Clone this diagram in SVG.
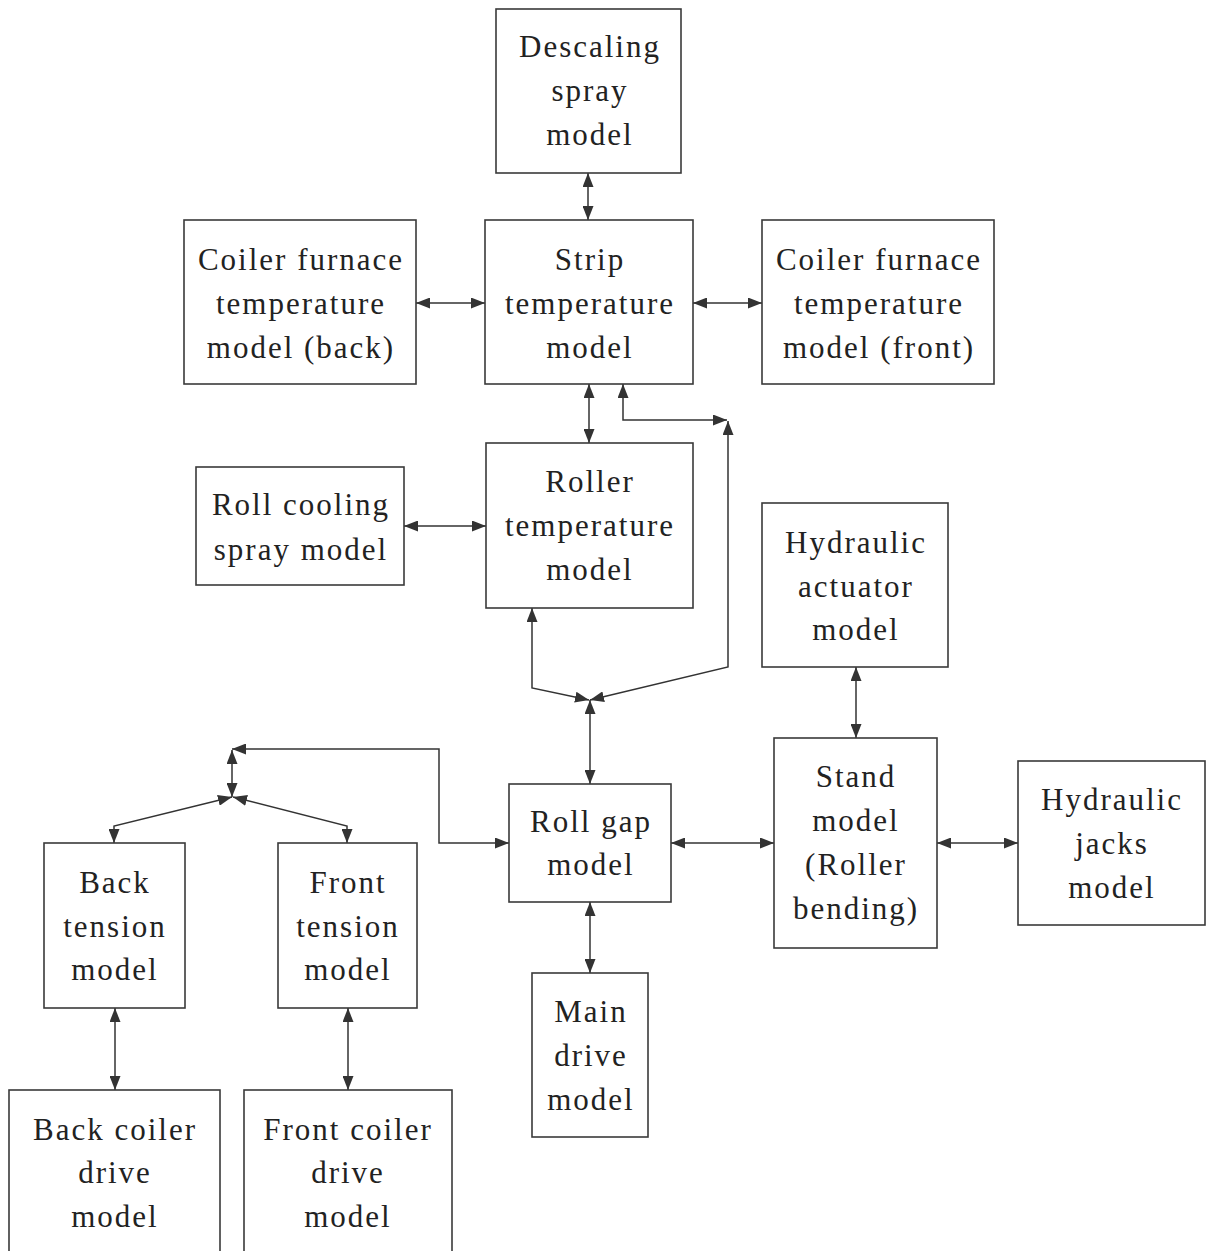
<svg xmlns="http://www.w3.org/2000/svg" width="1212" height="1251" viewBox="0 0 1212 1251">
<defs>
<style>
.box{fill:#fff;stroke:#3a3a3a;stroke-width:1.6}
.t{font-family:"Liberation Serif","Times New Roman",serif;font-size:31px;fill:#222;text-anchor:middle;letter-spacing:2px}
.c{fill:none;stroke:#333;stroke-width:1.5}
</style>
<marker id="ah" viewBox="0 0 14 11" refX="14" refY="5.5" markerWidth="14" markerHeight="11" markerUnits="userSpaceOnUse" orient="auto-start-reverse">
<path d="M0,0 L14,5.5 L0,11 Z" fill="#333"/>
</marker>
</defs>
<rect width="1212" height="1251" fill="#fff"/>

<g id="connectors">
<path class="c" d="M588,173 V220" marker-start="url(#ah)" marker-end="url(#ah)"/>
<path class="c" d="M416,303 H485" marker-start="url(#ah)" marker-end="url(#ah)"/>
<path class="c" d="M693,303 H762" marker-start="url(#ah)" marker-end="url(#ah)"/>
<path class="c" d="M589,384 V443" marker-start="url(#ah)" marker-end="url(#ah)"/>
<path class="c" d="M623,384 V420 H727" marker-start="url(#ah)" marker-end="url(#ah)"/>
<path class="c" d="M590,700 L728,667 V421" marker-start="url(#ah)" marker-end="url(#ah)"/>
<path class="c" d="M404,526 H486" marker-start="url(#ah)" marker-end="url(#ah)"/>
<path class="c" d="M532,608 V688 L589,700" marker-start="url(#ah)" marker-end="url(#ah)"/>
<path class="c" d="M590,700 V784" marker-start="url(#ah)" marker-end="url(#ah)"/>
<path class="c" d="M671,843 H774" marker-start="url(#ah)" marker-end="url(#ah)"/>
<path class="c" d="M937,843 H1018" marker-start="url(#ah)" marker-end="url(#ah)"/>
<path class="c" d="M856,667 V738" marker-start="url(#ah)" marker-end="url(#ah)"/>
<path class="c" d="M590,902 V973" marker-start="url(#ah)" marker-end="url(#ah)"/>
<path class="c" d="M509,843 H439 V749 H232" marker-start="url(#ah)" marker-end="url(#ah)"/>
<path class="c" d="M232,750 V797" marker-start="url(#ah)" marker-end="url(#ah)"/>
<path class="c" d="M232,797 L114,826 V843" marker-start="url(#ah)" marker-end="url(#ah)"/>
<path class="c" d="M233,797 L347,826 V843" marker-start="url(#ah)" marker-end="url(#ah)"/>
<path class="c" d="M115,1008 V1090" marker-start="url(#ah)" marker-end="url(#ah)"/>
<path class="c" d="M348,1008 V1090" marker-start="url(#ah)" marker-end="url(#ah)"/>
</g>

<g id="descaling">
<rect class="box" x="496" y="9" width="185" height="164"/>
<text class="t" x="590" y="57">Descaling<tspan x="590" dy="44">spray</tspan><tspan x="590" dy="44">model</tspan></text>
</g>
<g id="coiler-back">
<rect class="box" x="184" y="220" width="232" height="164"/>
<text class="t" x="301" y="270">Coiler furnace<tspan x="301" dy="44">temperature</tspan><tspan x="301" dy="44">model (back)</tspan></text>
</g>
<g id="strip">
<rect class="box" x="485" y="220" width="208" height="164"/>
<text class="t" x="590" y="270">Strip<tspan x="590" dy="44">temperature</tspan><tspan x="590" dy="44">model</tspan></text>
</g>
<g id="coiler-front">
<rect class="box" x="762" y="220" width="232" height="164"/>
<text class="t" x="879" y="270">Coiler furnace<tspan x="879" dy="44">temperature</tspan><tspan x="879" dy="44">model (front)</tspan></text>
</g>
<g id="roll-cooling">
<rect class="box" x="196" y="467" width="208" height="118"/>
<text class="t" x="301" y="515">Roll cooling<tspan x="301" dy="45">spray model</tspan></text>
</g>
<g id="roller-temp">
<rect class="box" x="486" y="443" width="207" height="165"/>
<text class="t" x="590" y="492">Roller<tspan x="590" dy="44">temperature</tspan><tspan x="590" dy="44">model</tspan></text>
</g>
<g id="hyd-actuator">
<rect class="box" x="762" y="503" width="186" height="164"/>
<text class="t" x="856" y="553">Hydraulic<tspan x="856" dy="44">actuator</tspan><tspan x="856" dy="43">model</tspan></text>
</g>
<g id="roll-gap">
<rect class="box" x="509" y="784" width="162" height="118"/>
<text class="t" x="591" y="832">Roll gap<tspan x="591" dy="43">model</tspan></text>
</g>
<g id="stand">
<rect class="box" x="774" y="738" width="163" height="210"/>
<text class="t" x="856" y="787">Stand<tspan x="856" dy="44">model</tspan><tspan x="856" dy="44">(Roller</tspan><tspan x="856" dy="44">bending)</tspan></text>
</g>
<g id="hyd-jacks">
<rect class="box" x="1018" y="761" width="187" height="164"/>
<text class="t" x="1112" y="810">Hydraulic<tspan x="1112" dy="44">jacks</tspan><tspan x="1112" dy="44">model</tspan></text>
</g>
<g id="back-tension">
<rect class="box" x="44" y="843" width="141" height="165"/>
<text class="t" x="115" y="893">Back<tspan x="115" dy="44">tension</tspan><tspan x="115" dy="43">model</tspan></text>
</g>
<g id="front-tension">
<rect class="box" x="278" y="843" width="139" height="165"/>
<text class="t" x="348" y="893">Front<tspan x="348" dy="44">tension</tspan><tspan x="348" dy="43">model</tspan></text>
</g>
<g id="main-drive">
<rect class="box" x="532" y="973" width="116" height="164"/>
<text class="t" x="591" y="1022">Main<tspan x="591" dy="44">drive</tspan><tspan x="591" dy="44">model</tspan></text>
</g>
<g id="back-coiler-drive">
<rect class="box" x="9" y="1090" width="211" height="166"/>
<text class="t" x="115" y="1140">Back coiler<tspan x="115" dy="43">drive</tspan><tspan x="115" dy="44">model</tspan></text>
</g>
<g id="front-coiler-drive">
<rect class="box" x="244" y="1090" width="208" height="166"/>
<text class="t" x="348" y="1140">Front coiler<tspan x="348" dy="43">drive</tspan><tspan x="348" dy="44">model</tspan></text>
</g>
</svg>
